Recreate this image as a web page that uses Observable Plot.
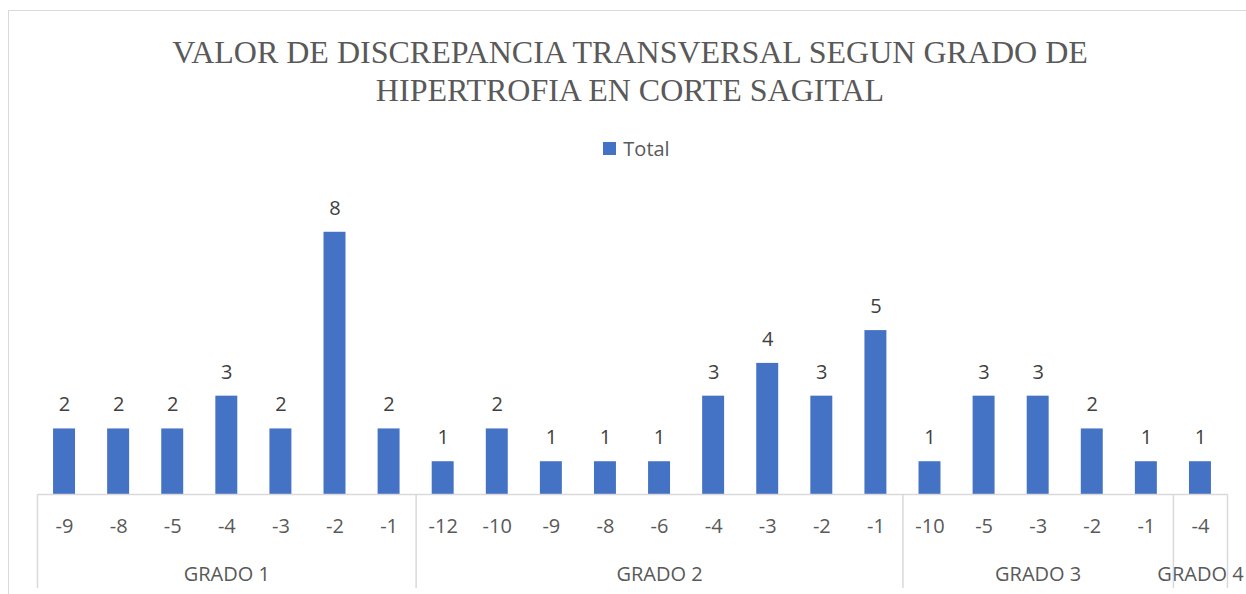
<!DOCTYPE html>
<html><head><meta charset="utf-8">
<script src="https://cdn.jsdelivr.net/npm/d3@7"></script>
<script src="https://cdn.jsdelivr.net/npm/@observablehq/plot@0.6"></script>
<style>
html,body{margin:0;padding:0;background:#fff;overflow:hidden}
#wrap{position:relative;width:1246px;height:594px;overflow:hidden;background:#fff}
#frame{position:absolute;left:8px;top:10px;width:1300px;height:700px;border:1px solid #d9d9d9;box-sizing:border-box}
#title{position:absolute;left:14px;top:33px;width:1232px;text-align:center;font-family:"Liberation Serif",serif;font-size:32px;line-height:38px;color:#595959}
#legend{position:absolute;left:0;top:136px;width:1246px;height:24px;padding-left:27px;box-sizing:border-box;display:flex;justify-content:center;align-items:center;font-family:"Open Sans",sans-serif;font-size:20px;color:#595959}
#legend .sw{width:13px;height:13px;background:#4472C4;margin-right:7px}
#chart{position:absolute;left:0;top:170px}
</style>
</head><body>
<div id="wrap">
  <div id="frame"></div>
  <div id="title">VALOR DE DISCREPANCIA TRANSVERSAL SEGUN GRADO DE<br>HIPERTROFIA EN CORTE SAGITAL</div>
  <div id="legend"><span class="sw"></span><span>Total</span></div>
  <div id="chart"></div>
</div>
<script>
const categories = ["-9","-8","-5","-4","-3","-2","-1",
  "-12","-10","-9","-8","-6","-4","-3","-2","-1",
  "-10","-5","-3","-2","-1",
  "-4"];
const categoryGroup = ["GRADO 1","GRADO 1","GRADO 1","GRADO 1","GRADO 1","GRADO 1","GRADO 1",
  "GRADO 2","GRADO 2","GRADO 2","GRADO 2","GRADO 2","GRADO 2","GRADO 2","GRADO 2","GRADO 2",
  "GRADO 3","GRADO 3","GRADO 3","GRADO 3","GRADO 3",
  "GRADO 4"];
const totals = [2,2,2,3,2,8,2,
  1,2,1,1,1,3,4,3,5,
  1,3,3,2,1,
  1];

const table = categories.map((c, i) => ({i, label: c, group: categoryGroup[i], total: totals[i]}));
const groups = d3.groups(table, d => d.group).map(([name, rows]) => ({
  name, start: rows[0].i, end: rows[rows.length - 1].i + 1
}));
const bounds = [0, ...groups.map(g => g.end)];

const barPad = 0.297;
const gray = "#d9d9d9";
const textColor = "#595959";

const plot = Plot.plot({
  width: 1246,
  height: 424,
  marginLeft: 37,
  marginRight: 19,
  marginTop: 29,
  marginBottom: 100,
  style: {fontFamily: "Open Sans", background: "transparent"},
  x: {domain: [0, categories.length], axis: null},
  y: {domain: [0, 9], axis: null},
  marks: [
    Plot.rectY(table, {x1: d => d.i + barPad, x2: d => d.i + 1 - barPad, y1: () => 0, y2: "total", fill: "#4472C4"}),
    Plot.ruleY([0], {stroke: gray, strokeWidth: 1.5}),
    Plot.text(table, {x: d => d.i + 0.5, y: "total", text: d => String(d.total), dy: -24, fill: "#404040", fontSize: 20, fontFamily: "Open Sans"}),
    Plot.text(table, {x: d => d.i + 0.5, y: () => 0, text: "label", dy: 32, fill: textColor, fontSize: 20, fontFamily: "Open Sans"}),
    Plot.text(groups, {x: d => (d.start + d.end) / 2, y: () => 0, text: "name", dy: 80, fill: textColor, fontSize: 20, fontFamily: "Open Sans"}),
    Plot.ruleX(bounds, {x: d => d, y1: () => 0, y2: () => 0, insetBottom: -94, stroke: gray, strokeWidth: 1.5})
  ]
});
document.getElementById("chart").appendChild(plot);
</script>
</body></html>
